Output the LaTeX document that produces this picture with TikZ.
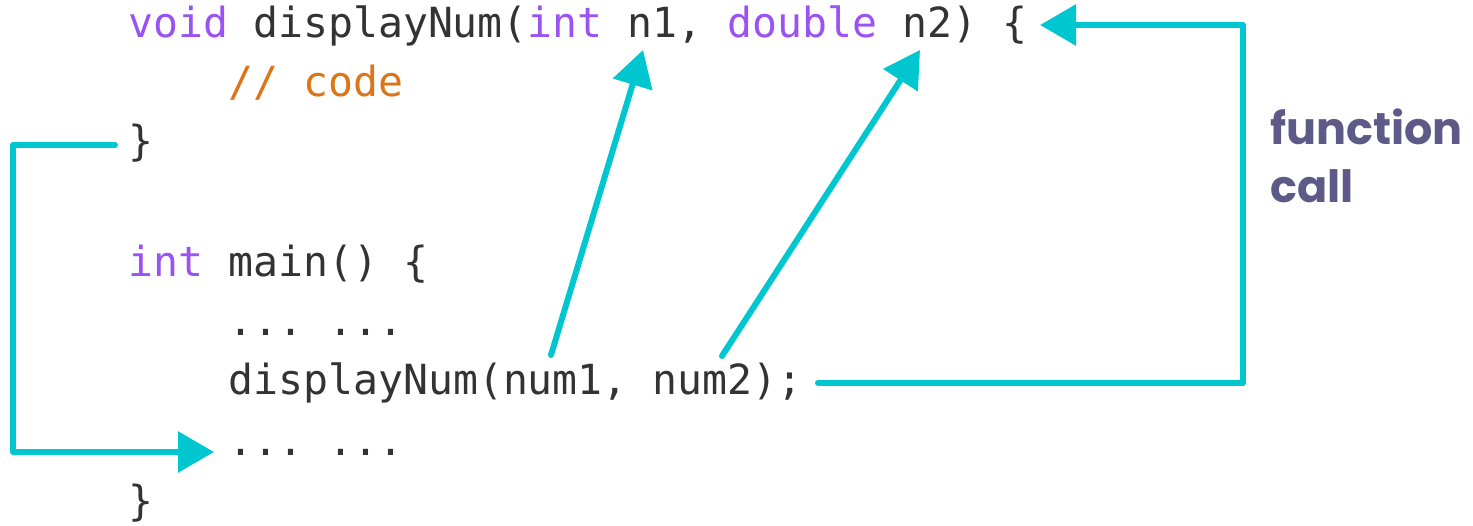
\documentclass[tikz,border=0pt]{standalone}
\usepackage{fontspec}
\setmonofont{DejaVu Sans Mono}
\newfontfamily\popfont{Poppins}
\usetikzlibrary{arrows.meta}
\definecolor{kwcol}{HTML}{9B52F2}
\definecolor{cmcol}{HTML}{DC7418}
\definecolor{txcol}{HTML}{333333}
\definecolor{arcol}{HTML}{00C6CF}
\definecolor{lbcol}{HTML}{5E5A88}
\begin{document}
\begin{tikzpicture}[x=1pt,y=-1pt,
  code/.style={anchor=base west, inner sep=0pt, text=txcol, font=\ttfamily\fontsize{41.5}{50}\selectfont},
  lbl/.style={anchor=base west, inner sep=0pt, text=lbcol, font=\popfont\bfseries\fontsize{44.5}{58}\selectfont},
  conn/.style={draw=arcol, line width=6pt, line cap=round, line join=round, -{Triangle[length=36pt,width=40pt]}}]
\useasboundingbox (0,0) rectangle (1473,526);
\node[code] (l1) at (128,38) {\textcolor{kwcol}{void} displayNum(\textcolor{kwcol}{int} n1, \textcolor{kwcol}{double} n2) \{};
\node[code,text=cmcol] (l2) at (228,97) {// code};
\node[code] (l3) at (128,156) {\}};
\node[code] (l5) at (128,277) {\textcolor{kwcol}{int} main() \{};
\node[code] (l6) at (228,336) {... ...};
\node[code] (l7) at (228,395) {displayNum(num1, num2);};
\node[code] (l8) at (228,456) {... ...};
\node[code] (l9) at (128,515) {\}};
\node[lbl] (fn) at (1270,145) {function};
\node[lbl] (cl) at (1270,203) {call};
% connector coordinates
\coordinate (a1s) at (551,355);
\coordinate (a1e) at (643,50);
\coordinate (a2s) at (722,356);
\coordinate (a2e) at (920,50);
\coordinate (a3s) at (818,383);
\coordinate (a3b) at (1243,383);
\coordinate (a3t) at (1243,25);
\coordinate (a3e) at (1040,25);
\coordinate (a4s) at (115,145);
\coordinate (a4t) at (13,145);
\coordinate (a4b) at (13,452);
\coordinate (a4e) at (214,452);
\draw[conn] (a1s) -- (a1e);
\draw[conn] (a2s) -- (a2e);
\draw[conn] (a3s) -- (a3b) -- (a3t) -- (a3e);
\draw[conn] (a4s) -- (a4t) -- (a4b) -- (a4e);
\end{tikzpicture}
\end{document}
